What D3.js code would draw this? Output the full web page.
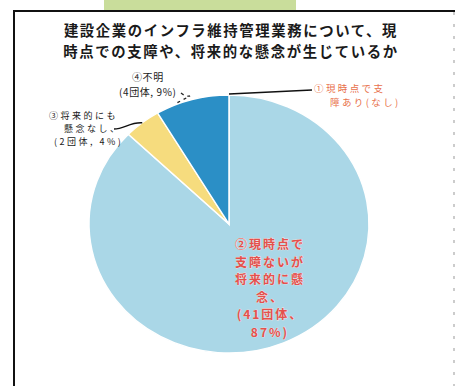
<!DOCTYPE html>
<html>
<head>
<meta charset="utf-8">
<script src="https://cdn.jsdelivr.net/npm/d3@7"></script>
<style>
  html, body { margin: 0; padding: 0; background: #fff; }
  svg { display: block; }
</style>
</head>
<body>
<svg id="chart" width="457" height="388"></svg>
<script>
// Survey answers (number of organisations per answer)
const categories = [
  "①現時点で支障あり",
  "②現時点で支障ないが将来的に懸念",
  "③将来的にも懸念なし",
  "④不明"
];
const counts = [0, 41, 2, 4];
const sliceColors = ["#e8704a", "#aad7e7", "#f6dc7e", "#2b8fc6"];
const titleLines = [
  "建設企業のインフラ維持管理業務について、現",
  "時点での支障や、将来的な懸念が生じているか"
];

const svg = d3.select("#chart");
const font = "'Noto Sans CJK JP', 'Noto Sans', sans-serif";

// Multi-line text block: one <text>, one <tspan> per line
function block(x, y, lines, lineH, xs) {
  const t = svg.append("text").attr("x", x).attr("y", y).attr("font-family", font);
  t.selectAll("tspan").data(lines).join("tspan")
    .attr("x", (d, i) => xs ? xs[i] : x)
    .attr("dy", (d, i) => i === 0 ? 0 : lineH)
    .text(d => d);
  return t;
}

// Header band and frame
svg.append("rect").attr("x", 104).attr("y", 0).attr("width", 192).attr("height", 10)
  .attr("fill", "#c9dd9b");
svg.append("path")
  .attr("d", "M14,386 L14,11 L455,11")
  .attr("fill", "none").attr("stroke", "#111").attr("stroke-width", 2);
svg.append("line").attr("x1", 454).attr("x2", 454).attr("y1", 12).attr("y2", 386)
  .attr("stroke", "#999").attr("stroke-width", 1).attr("stroke-dasharray", "3,9");

// Title
block(231, 36, titleLines, 21)
  .attr("text-anchor", "middle")
  .attr("font-weight", 700).attr("font-size", 14.4).attr("letter-spacing", 1.6)
  .attr("fill", "#1a1a1a");

// Pie (slightly squashed vertically)
const cx = 229, cy = 224, rx = 140, ry = 129;
const total = d3.sum(counts);
const pct = counts.map(c => Math.round(c / total * 100));
const pie = d3.pie().sort(null).value(d => d)(counts);
const arc = d3.arc().innerRadius(0).outerRadius(rx);

const pieG = svg.append("g")
  .attr("transform", `translate(${cx},${cy}) scale(1,${ry / rx})`);
pieG.selectAll("path").data(pie).join("path")
  .attr("d", arc)
  .attr("fill", (d, i) => sliceColors[i])
  .attr("stroke", "#ffffff").attr("stroke-width", 1.5);

// Point on the pie's rim at a given angle
const rim = a => [cx + rx * Math.sin(a), cy - ry * Math.cos(a)];

// ① label (zero slice at 12 o'clock)
const p0 = rim(pie[0].startAngle);
svg.append("line").attr("x1", p0[0]).attr("y1", p0[1] - 1).attr("x2", 312).attr("y2", 90)
  .attr("stroke", "#111").attr("stroke-width", 1.6);
block(314, 92, ["①現時点で支", "障あり(なし)"], 14, [314, 330])
  .attr("font-size", 9.5).attr("letter-spacing", 2.4).attr("fill", "#e8704a");

// ④ label
const a3 = (pie[3].startAngle + pie[3].endAngle) / 2 - 0.13;
const p3 = rim(a3);
svg.append("path")
  .attr("d", `M181,93 Q186,97 190,96 L${p3[0]},${p3[1] - 1}`)
  .attr("fill", "none").attr("stroke", "#222").attr("stroke-width", 1.3)
  .attr("stroke-dasharray", "3,4");
block(132, 81, ["④不明", `(${counts[3]}団体, ${pct[3]}%)`], 15, [132, 119])
  .attr("font-size", 10).attr("letter-spacing", 0.6).attr("fill", "#1a1a1a");

// ③ label
const a2 = (pie[2].startAngle + pie[2].endAngle) / 2;
const p2 = rim(a2);
svg.append("path")
  .attr("d", `M114,129 C124,129 130,122 ${p2[0]},${p2[1]}`)
  .attr("fill", "none").attr("stroke", "#111").attr("stroke-width", 1.4);
block(49, 119, ["③将来的にも", "懸念なし、", `(${counts[2]}団体, ${pct[2]}%)`], 13.2, [49, 64, 54])
  .attr("font-size", 9).attr("letter-spacing", 2.5).attr("fill", "#1a1a1a");

// ② label inside the large slice
block(270, 249, ["②現時点で", "支障ないが", "将来的に懸", "念、", `(${counts[1]}団体、`, `${pct[1]}%)`], 17.5)
  .attr("text-anchor", "middle")
  .attr("font-weight", 700).attr("font-size", 12).attr("letter-spacing", 2)
  .attr("fill", "#e4504c")
  .attr("stroke", "#fbe3e0").attr("stroke-width", 0.6).attr("paint-order", "stroke");
</script>
</body>
</html>
